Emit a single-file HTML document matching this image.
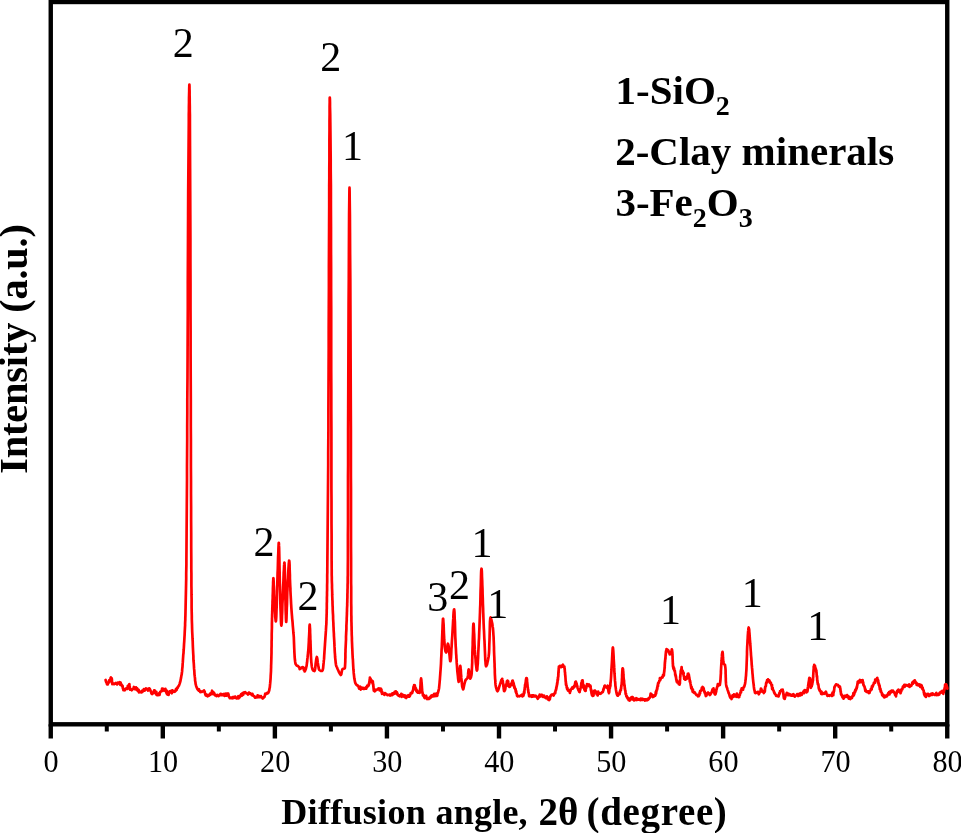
<!DOCTYPE html>
<html lang="en">
<head>
<meta charset="utf-8">
<title>XRD pattern</title>
<style>
html,body{margin:0;padding:0;background:#fff;}
body{width:961px;height:833px;overflow:hidden;}
svg{display:block;}
text{font-family:"Liberation Serif",serif;fill:#000;}
.b{font-weight:bold;}
</style>
</head>
<body>
<svg width="961" height="833" viewBox="0 0 961 833">
<rect x="0" y="0" width="961" height="833" fill="#fff"/>
<g id="axes" stroke="#000" fill="none">
<rect x="50.75" y="2.0" width="896.5" height="722.3" stroke-width="4.4"/>
<line x1="50.75" y1="724.3" x2="50.75" y2="738.5" stroke-width="4.4"/>
<line x1="106.78" y1="724.3" x2="106.78" y2="731.5" stroke-width="4"/>
<line x1="162.81" y1="724.3" x2="162.81" y2="738.5" stroke-width="4.4"/>
<line x1="218.84" y1="724.3" x2="218.84" y2="731.5" stroke-width="4"/>
<line x1="274.88" y1="724.3" x2="274.88" y2="738.5" stroke-width="4.4"/>
<line x1="330.91" y1="724.3" x2="330.91" y2="731.5" stroke-width="4"/>
<line x1="386.94" y1="724.3" x2="386.94" y2="738.5" stroke-width="4.4"/>
<line x1="442.97" y1="724.3" x2="442.97" y2="731.5" stroke-width="4"/>
<line x1="499.00" y1="724.3" x2="499.00" y2="738.5" stroke-width="4.4"/>
<line x1="555.03" y1="724.3" x2="555.03" y2="731.5" stroke-width="4"/>
<line x1="611.06" y1="724.3" x2="611.06" y2="738.5" stroke-width="4.4"/>
<line x1="667.09" y1="724.3" x2="667.09" y2="731.5" stroke-width="4"/>
<line x1="723.12" y1="724.3" x2="723.12" y2="738.5" stroke-width="4.4"/>
<line x1="779.16" y1="724.3" x2="779.16" y2="731.5" stroke-width="4"/>
<line x1="835.19" y1="724.3" x2="835.19" y2="738.5" stroke-width="4.4"/>
<line x1="891.22" y1="724.3" x2="891.22" y2="731.5" stroke-width="4"/>
<line x1="947.25" y1="724.3" x2="947.25" y2="738.5" stroke-width="4.4"/>
</g>
<g id="curve" fill="none" stroke="#ff0000" stroke-width="2.7" stroke-linejoin="round" stroke-linecap="round">
<path d="M105.6,680.0 L105.8,680.6 L106.0,681.9 L106.2,681.9 L106.4,682.4 L106.6,682.3 L106.8,683.2 L107.0,684.4 L107.3,684.0 L107.5,683.7 L107.8,684.4 L108.1,683.4 L108.4,683.1 L108.8,682.4 L109.1,680.4 L109.4,681.2 L109.7,681.4 L110.0,680.7 L110.3,680.1 L110.6,678.0 L110.9,677.5 L111.1,677.8 L111.3,677.8 L111.5,678.1 L111.6,678.4 L111.7,678.5 L111.8,679.4 L111.9,679.1 L111.9,680.4 L112.0,681.2 L112.0,681.1 L112.1,683.5 L112.2,683.2 L112.3,684.2 L112.4,683.1 L112.5,683.7 L112.7,683.1 L113.1,683.4 L113.5,683.6 L114.0,684.2 L114.6,683.9 L115.2,683.4 L115.7,683.0 L116.2,683.7 L116.7,683.2 L117.2,684.4 L117.7,682.7 L118.2,683.3 L118.7,683.1 L119.1,683.5 L119.5,682.2 L119.9,683.6 L120.3,684.8 L120.6,682.6 L121.0,684.3 L121.3,684.8 L121.6,684.6 L121.9,685.6 L122.2,686.3 L122.4,686.4 L122.6,685.8 L122.8,688.1 L123.0,688.5 L123.2,689.2 L123.4,690.1 L123.6,689.7 L123.9,689.8 L124.1,689.0 L124.4,690.0 L124.8,690.4 L125.2,689.3 L125.6,689.2 L126.1,688.3 L126.5,688.3 L126.9,688.7 L127.2,688.0 L127.5,688.9 L127.8,685.9 L128.1,685.8 L128.3,686.6 L128.6,687.1 L128.8,686.1 L129.0,685.6 L129.2,684.3 L129.4,684.2 L129.5,686.9 L129.7,686.6 L129.8,687.0 L130.0,689.1 L130.2,689.7 L130.4,689.4 L130.6,689.4 L130.9,689.5 L131.3,689.5 L131.8,690.2 L132.3,689.2 L132.9,688.9 L133.4,688.7 L133.9,687.0 L134.4,688.1 L134.8,689.1 L135.2,689.0 L135.6,688.9 L136.0,687.3 L136.4,688.6 L136.7,690.1 L137.1,688.4 L137.5,690.0 L137.9,690.1 L138.3,691.3 L138.7,689.9 L139.0,692.4 L139.4,691.9 L139.8,691.6 L140.2,692.1 L140.6,691.9 L141.0,692.3 L141.4,691.8 L141.8,692.3 L142.2,690.7 L142.6,690.5 L143.0,691.3 L143.4,690.2 L143.8,689.2 L144.2,690.3 L144.6,690.6 L145.0,689.4 L145.4,689.1 L145.9,688.4 L146.4,689.3 L146.9,689.3 L147.5,689.2 L148.0,690.5 L148.5,688.6 L148.9,690.3 L149.3,688.4 L149.7,688.8 L150.0,689.4 L150.3,690.0 L150.5,690.7 L150.7,691.0 L150.8,691.2 L151.0,691.7 L151.2,692.3 L151.3,693.2 L151.5,693.1 L151.7,693.8 L151.9,693.7 L152.2,694.0 L152.5,693.2 L152.8,693.3 L153.1,692.6 L153.4,693.1 L153.8,691.3 L154.1,690.4 L154.4,690.6 L154.7,690.4 L155.0,691.0 L155.2,692.1 L155.5,691.7 L155.8,692.8 L156.1,694.5 L156.3,691.8 L156.6,693.4 L156.9,694.8 L157.2,695.2 L157.5,695.0 L157.8,695.1 L158.1,694.4 L158.5,694.9 L158.8,694.2 L159.2,693.2 L159.5,694.9 L159.9,692.9 L160.2,691.8 L160.6,691.9 L161.0,691.5 L161.3,691.1 L161.7,690.9 L162.1,688.6 L162.5,689.9 L162.9,690.8 L163.3,688.9 L163.7,689.5 L164.1,690.2 L164.4,689.4 L164.7,690.1 L165.0,690.8 L165.4,688.8 L165.7,690.3 L165.9,690.8 L166.2,692.1 L166.5,693.0 L166.8,690.7 L167.0,694.1 L167.3,692.6 L167.6,694.6 L167.8,693.2 L168.1,694.4 L168.3,694.4 L168.6,694.8 L168.8,693.3 L169.0,692.9 L169.2,692.8 L169.4,691.8 L169.7,691.3 L170.0,691.2 L170.4,692.3 L170.8,692.0 L171.3,691.0 L171.8,693.3 L172.4,690.3 L172.9,691.9 L173.5,691.0 L174.0,691.3 L174.4,691.2 L174.8,691.7 L175.2,691.1 L175.6,691.1 L175.9,689.1 L176.3,688.7 L176.6,689.9 L176.9,688.2 L177.2,687.7 L177.5,688.1 L178.3,686.4 L178.9,685.7 L179.5,684.1 L180.0,682.5 L180.4,681.2 L180.8,679.0 L181.1,677.6 L181.4,675.6 L181.7,674.4 L181.9,672.5 L182.1,671.4 L182.2,669.3 L182.3,668.4 L182.5,666.8 L182.6,665.0 L182.7,663.0 L182.8,662.4 L182.9,660.5 L183.0,658.9 L183.1,657.5 L183.2,656.0 L183.3,654.5 L183.5,653.2 L183.6,651.0 L183.7,650.0 L183.8,648.5 L183.9,646.9 L184.0,644.9 L184.1,643.2 L184.2,642.1 L184.3,640.3 L184.4,638.7 L184.5,636.8 L184.6,635.3 L184.7,633.0 L184.8,630.6 L184.9,629.1 L185.0,626.9 L185.1,625.7 L185.1,623.6 L185.2,621.5 L185.3,619.8 L185.3,618.1 L185.4,616.0 L185.5,611.4 L185.6,607.0 L185.7,602.0 L185.8,597.6 L185.9,593.0 L186.0,588.4 L186.1,583.2 L186.2,578.9 L186.2,573.5 L186.3,569.1 L186.4,564.2 L186.4,560.0 L186.5,546.9 L186.6,533.0 L186.7,520.0 L186.8,506.6 L186.9,493.3 L187.0,479.9 L187.0,466.7 L187.1,453.8 L187.2,440.0 L187.2,426.8 L187.3,413.6 L187.3,400.0 L187.5,376.8 L187.6,353.4 L187.7,330.4 L187.8,307.6 L187.8,283.8 L187.9,260.8 L188.0,238.1 L188.1,214.9 L188.2,191.5 L188.4,168.5 L188.6,145.2 L188.8,122.0 L188.8,118.4 L188.8,114.5 L188.9,110.7 L188.9,107.0 L189.0,102.5 L189.0,98.4 L189.1,94.7 L189.2,91.1 L189.2,88.7 L189.3,86.2 L189.3,85.2 L189.4,84.6 L189.4,84.5 L189.5,86.6 L189.5,88.5 L189.6,91.0 L189.6,95.1 L189.7,98.6 L189.7,102.1 L189.8,106.5 L189.8,111.0 L189.9,114.8 L189.9,118.8 L189.9,122.0 L190.0,145.4 L190.1,168.5 L190.2,191.6 L190.3,215.0 L190.4,238.0 L190.4,261.1 L190.5,283.6 L190.5,307.6 L190.6,330.8 L190.6,353.6 L190.7,376.7 L190.8,400.0 L190.8,413.8 L190.8,426.2 L190.9,440.1 L190.9,453.9 L190.9,466.4 L191.0,480.2 L191.0,493.8 L191.1,506.6 L191.1,520.1 L191.2,533.6 L191.2,546.4 L191.3,560.0 L191.3,564.3 L191.3,568.7 L191.4,573.2 L191.4,577.3 L191.4,581.6 L191.4,585.7 L191.5,590.2 L191.5,594.9 L191.6,599.0 L191.6,603.1 L191.6,607.5 L191.7,612.0 L191.8,615.9 L191.8,618.8 L191.9,622.0 L192.0,624.4 L192.1,628.5 L192.2,631.7 L192.4,635.3 L192.5,638.2 L192.7,641.4 L192.8,644.8 L192.9,647.4 L193.1,651.2 L193.2,653.2 L193.3,654.8 L193.4,656.4 L193.4,658.6 L193.5,660.5 L193.6,661.5 L193.8,663.5 L193.9,665.5 L194.0,667.2 L194.1,668.9 L194.3,670.5 L194.4,672.5 L194.5,674.6 L194.7,675.8 L194.8,676.9 L195.0,678.4 L195.1,680.7 L195.4,682.0 L195.6,683.8 L195.9,685.0 L196.2,686.2 L196.8,687.6 L197.6,689.4 L198.7,690.6 L199.0,689.3 L199.4,690.6 L199.9,691.4 L200.3,692.1 L200.8,691.3 L201.2,691.9 L201.6,691.7 L202.1,691.9 L202.5,691.5 L203.0,691.4 L203.4,690.9 L203.7,690.6 L204.0,690.5 L204.2,691.6 L204.4,691.4 L204.6,691.3 L204.8,692.0 L204.9,693.1 L205.1,693.6 L205.3,694.4 L205.5,694.8 L205.7,695.4 L205.9,695.4 L206.2,695.6 L206.6,694.6 L207.0,695.9 L207.5,696.3 L208.0,695.7 L208.5,695.2 L209.1,695.6 L209.6,694.4 L210.0,695.0 L210.4,693.3 L210.8,694.4 L211.1,693.2 L211.5,693.9 L211.8,692.1 L212.1,690.7 L212.5,692.5 L212.9,691.8 L213.2,694.1 L213.6,693.0 L214.0,692.7 L214.4,693.6 L214.8,695.0 L215.2,695.3 L215.6,695.0 L216.0,695.1 L216.5,696.1 L217.0,695.5 L217.5,694.9 L218.0,695.3 L218.5,696.1 L219.0,695.5 L219.5,695.5 L220.0,694.7 L220.5,693.8 L221.0,694.5 L221.5,695.1 L222.0,694.2 L222.5,695.2 L223.0,694.7 L223.5,694.9 L224.0,694.0 L224.5,695.9 L225.0,694.9 L225.5,693.7 L225.9,693.9 L226.4,695.7 L226.8,693.5 L227.2,694.4 L227.5,693.7 L227.8,694.5 L228.1,694.1 L228.3,693.6 L228.5,695.1 L228.7,695.8 L229.0,696.9 L229.2,697.1 L229.4,697.0 L229.7,698.0 L230.0,697.5 L230.4,698.0 L230.8,697.8 L231.2,697.8 L231.7,697.6 L232.1,698.4 L232.7,697.1 L233.2,697.5 L233.7,698.0 L234.2,696.9 L234.7,697.7 L235.2,696.6 L235.7,697.6 L236.2,698.1 L236.6,698.5 L237.1,698.4 L237.5,697.7 L237.9,697.3 L238.3,696.2 L238.7,698.3 L239.2,697.1 L239.6,697.3 L240.0,696.2 L240.4,695.3 L240.8,695.6 L241.2,694.1 L241.6,695.8 L242.0,695.6 L242.5,693.2 L242.9,694.4 L243.3,694.6 L243.7,692.6 L244.1,692.3 L244.5,692.7 L244.9,692.9 L245.3,692.2 L245.8,693.2 L246.2,693.1 L246.6,693.3 L247.1,693.6 L247.6,693.8 L248.0,694.5 L248.5,694.3 L248.9,692.6 L249.4,693.4 L249.9,693.1 L250.3,693.3 L250.8,694.2 L251.2,694.4 L251.6,694.6 L252.0,695.2 L252.4,693.9 L252.8,694.5 L253.1,695.7 L253.5,695.9 L253.9,696.1 L254.2,696.6 L254.6,696.4 L255.0,697.7 L255.4,697.6 L255.8,697.4 L256.2,697.5 L256.7,697.0 L257.1,697.3 L257.6,695.3 L258.1,696.5 L258.6,697.1 L259.1,695.9 L259.5,697.1 L260.0,696.9 L260.5,697.1 L260.9,696.1 L261.4,697.2 L261.9,697.4 L262.3,698.2 L262.7,698.5 L263.1,698.1 L263.4,698.0 L263.7,697.1 L264.0,697.2 L264.2,696.8 L264.5,696.8 L264.7,696.0 L265.0,694.7 L265.3,693.7 L265.6,694.4 L266.0,693.9 L266.5,693.4 L267.0,692.9 L267.4,693.5 L267.8,693.0 L268.1,693.1 L268.7,691.9 L269.2,690.5 L269.5,688.5 L269.8,687.3 L270.0,685.0 L270.2,683.2 L270.3,681.8 L270.5,679.7 L270.6,678.2 L270.7,675.6 L270.8,674.2 L270.9,672.7 L271.0,671.0 L271.0,669.6 L271.1,667.3 L271.1,665.8 L271.2,663.7 L271.3,660.3 L271.4,656.7 L271.5,652.9 L271.5,649.1 L271.6,645.6 L271.6,641.6 L271.7,638.5 L271.7,634.3 L271.8,631.0 L271.9,627.8 L271.9,623.6 L272.0,620.0 L272.0,618.3 L272.1,617.0 L272.1,615.0 L272.2,613.1 L272.2,611.7 L272.3,610.1 L272.3,608.5 L272.4,606.5 L272.4,605.4 L272.5,603.7 L272.5,601.7 L272.6,600.0 L272.7,598.1 L272.7,595.8 L272.8,593.9 L272.9,590.9 L272.9,588.9 L273.0,586.3 L273.1,584.0 L273.1,582.4 L273.2,580.9 L273.3,579.3 L273.3,578.3 L273.4,578.2 L273.5,578.7 L273.5,579.3 L273.6,580.7 L273.7,582.6 L273.7,584.5 L273.8,586.2 L273.9,589.3 L274.0,591.1 L274.0,593.7 L274.1,595.7 L274.2,598.0 L274.3,600.0 L274.4,601.5 L274.5,604.5 L274.6,606.7 L274.8,608.4 L274.9,610.7 L275.1,613.0 L275.2,615.8 L275.3,617.3 L275.5,619.0 L275.6,620.2 L275.7,621.1 L275.8,621.4 L276.0,620.6 L276.1,619.3 L276.3,616.5 L276.4,613.7 L276.5,610.1 L276.7,606.0 L276.8,601.4 L276.9,596.6 L277.0,592.3 L277.1,587.7 L277.3,584.1 L277.4,580.0 L277.5,576.9 L277.6,572.9 L277.8,568.8 L277.9,564.7 L278.0,560.5 L278.1,556.7 L278.3,553.1 L278.4,549.8 L278.5,547.0 L278.6,545.2 L278.7,543.1 L278.8,542.8 L278.9,543.4 L279.0,545.9 L279.1,547.5 L279.2,551.4 L279.3,555.8 L279.4,560.5 L279.5,565.7 L279.6,570.7 L279.7,576.1 L279.8,581.1 L279.9,586.0 L280.0,590.0 L280.1,592.7 L280.2,596.5 L280.3,600.6 L280.4,604.2 L280.5,608.2 L280.7,612.4 L280.8,615.7 L280.9,619.2 L281.0,621.9 L281.1,623.9 L281.3,625.3 L281.4,625.6 L281.5,625.1 L281.7,623.4 L281.8,621.7 L281.9,619.1 L282.0,615.7 L282.2,612.2 L282.3,608.6 L282.4,604.3 L282.6,600.7 L282.7,597.2 L282.9,593.1 L283.0,590.0 L283.1,587.6 L283.2,584.8 L283.4,582.3 L283.5,578.9 L283.6,576.0 L283.7,572.7 L283.9,570.1 L284.0,567.7 L284.1,565.2 L284.2,564.4 L284.3,563.2 L284.4,562.6 L284.5,562.7 L284.6,564.7 L284.7,566.7 L284.8,569.6 L284.8,573.0 L284.9,576.3 L285.0,580.6 L285.1,585.1 L285.1,588.8 L285.2,592.6 L285.3,596.3 L285.4,600.0 L285.5,601.7 L285.5,604.3 L285.6,607.0 L285.6,609.1 L285.7,611.5 L285.8,614.3 L285.9,615.8 L285.9,617.8 L286.0,619.7 L286.1,621.0 L286.1,621.5 L286.2,622.0 L286.3,621.2 L286.4,620.2 L286.5,618.0 L286.6,614.8 L286.7,611.8 L286.8,608.0 L287.0,604.3 L287.1,600.0 L287.2,596.0 L287.3,591.9 L287.5,588.6 L287.6,585.0 L287.7,583.2 L287.8,580.3 L288.0,578.0 L288.1,574.9 L288.2,572.5 L288.4,570.1 L288.5,567.8 L288.7,565.2 L288.8,563.4 L289.0,562.1 L289.1,560.7 L289.2,560.8 L289.3,561.1 L289.4,561.9 L289.5,563.5 L289.6,565.0 L289.6,567.0 L289.7,569.9 L289.8,572.5 L289.9,575.0 L289.9,578.0 L290.0,580.3 L290.1,582.7 L290.2,585.0 L290.3,587.0 L290.4,588.3 L290.4,590.3 L290.5,592.3 L290.6,594.4 L290.7,596.0 L290.8,597.9 L290.9,599.5 L291.0,601.6 L291.1,603.8 L291.2,605.0 L291.3,607.0 L291.5,609.9 L291.6,611.4 L291.8,613.9 L292.0,616.2 L292.2,618.8 L292.4,620.5 L292.6,622.6 L292.8,625.6 L293.0,627.9 L293.2,630.2 L293.4,633.0 L293.6,634.6 L293.8,637.1 L293.9,639.7 L294.0,642.4 L294.1,644.9 L294.2,647.8 L294.3,649.7 L294.4,652.4 L294.5,654.1 L294.7,657.6 L294.9,659.5 L295.2,662.0 L295.5,663.7 L296.5,665.4 L298.0,666.0 L298.3,666.4 L298.6,666.7 L298.9,667.0 L299.1,667.3 L299.4,667.8 L299.7,669.1 L300.0,668.7 L300.4,668.6 L300.8,668.3 L301.3,667.7 L301.7,668.1 L302.1,667.5 L302.5,667.0 L302.8,667.0 L303.1,667.9 L303.4,667.8 L303.6,667.5 L303.9,670.1 L304.2,669.9 L304.4,669.4 L304.6,671.4 L304.8,671.1 L305.0,671.0 L305.8,669.1 L306.3,667.0 L306.6,665.9 L306.8,664.1 L307.0,662.8 L307.2,661.1 L307.3,659.5 L307.5,658.0 L307.7,656.1 L307.8,655.2 L308.0,653.5 L308.1,651.9 L308.3,650.6 L308.4,649.0 L308.5,647.4 L308.6,645.9 L308.7,644.0 L308.8,642.5 L308.9,640.3 L308.9,639.1 L309.0,637.8 L309.1,636.0 L309.2,634.5 L309.3,632.0 L309.4,629.9 L309.4,628.3 L309.5,626.1 L309.6,625.2 L309.7,624.6 L309.8,625.3 L309.8,625.7 L309.9,627.3 L310.0,628.4 L310.1,630.4 L310.1,632.3 L310.2,634.4 L310.3,636.7 L310.3,638.9 L310.4,640.0 L310.5,641.4 L310.5,643.0 L310.6,644.9 L310.6,646.1 L310.7,648.0 L310.7,649.6 L310.8,651.0 L310.8,652.8 L310.9,653.9 L310.9,656.0 L311.0,657.0 L311.1,659.0 L311.2,660.4 L311.3,662.1 L311.5,663.7 L311.7,665.6 L311.9,667.0 L312.4,669.0 L313.2,670.5 L314.4,671.0 L314.9,670.1 L315.2,668.5 L315.4,666.5 L315.6,664.0 L315.9,661.9 L316.2,659.7 L316.5,658.1 L316.8,657.0 L317.1,657.8 L317.4,659.3 L317.7,662.5 L318.0,664.0 L318.3,666.1 L318.5,666.7 L318.8,668.8 L319.3,670.0 L320.8,671.0 L322.2,670.8 L322.7,670.0 L323.1,668.3 L323.3,666.1 L323.5,664.0 L323.7,662.4 L323.8,660.6 L324.0,659.4 L324.1,658.1 L324.2,656.0 L324.3,654.4 L324.4,653.1 L324.5,651.1 L324.6,650.0 L324.7,648.4 L324.8,646.9 L324.9,645.6 L325.0,643.8 L325.1,642.3 L325.2,640.9 L325.3,639.5 L325.4,637.8 L325.5,636.5 L325.6,635.2 L325.7,633.8 L325.8,632.0 L325.9,630.9 L326.0,628.8 L326.1,627.4 L326.2,625.4 L326.3,625.0 L326.4,622.8 L326.4,621.5 L326.5,620.0 L326.5,618.5 L326.6,616.3 L326.6,615.1 L326.7,613.3 L326.7,611.2 L326.7,610.1 L326.8,608.6 L326.8,606.2 L326.8,605.2 L326.8,603.4 L326.9,601.8 L326.9,600.0 L326.9,597.6 L327.0,595.3 L327.0,592.4 L327.1,590.2 L327.1,587.4 L327.1,585.2 L327.2,582.3 L327.2,580.0 L327.2,577.9 L327.2,575.1 L327.3,572.5 L327.3,570.0 L327.4,558.0 L327.5,546.5 L327.6,535.0 L327.7,523.6 L327.8,511.8 L327.9,500.1 L328.0,488.3 L328.1,477.0 L328.2,464.9 L328.2,453.2 L328.3,441.9 L328.4,430.0 L328.4,409.7 L328.5,389.3 L328.6,368.9 L328.7,348.6 L328.7,328.5 L328.8,308.1 L328.9,287.4 L328.9,267.4 L329.0,247.0 L329.1,226.4 L329.2,206.5 L329.2,186.0 L329.3,178.0 L329.3,169.1 L329.4,159.9 L329.4,150.3 L329.4,140.0 L329.5,130.8 L329.5,121.6 L329.6,114.5 L329.6,107.1 L329.7,102.3 L329.7,98.5 L329.8,97.5 L329.9,98.9 L330.0,102.6 L330.0,106.5 L330.2,113.8 L330.3,122.0 L330.4,130.7 L330.5,140.0 L330.6,150.5 L330.7,159.7 L330.7,168.8 L330.8,178.3 L330.9,186.0 L330.9,205.9 L331.0,227.0 L331.0,246.9 L331.1,267.4 L331.1,288.0 L331.2,308.0 L331.2,328.0 L331.2,348.2 L331.2,369.3 L331.3,389.5 L331.3,409.5 L331.4,430.0 L331.4,441.9 L331.4,453.5 L331.4,465.2 L331.4,476.1 L331.4,488.3 L331.5,500.2 L331.5,511.9 L331.5,523.6 L331.6,534.4 L331.6,546.7 L331.6,558.5 L331.7,570.0 L331.7,573.1 L331.7,574.8 L331.8,577.4 L331.8,580.0 L331.9,582.7 L332.0,584.9 L332.0,587.8 L332.1,589.8 L332.2,592.6 L332.2,594.9 L332.3,597.5 L332.4,600.0 L332.5,601.7 L332.5,603.3 L332.6,605.8 L332.7,607.4 L332.7,609.0 L332.8,611.1 L332.9,613.1 L333.0,614.4 L333.1,616.5 L333.1,618.5 L333.2,620.3 L333.3,622.0 L333.4,623.4 L333.4,624.5 L333.5,626.8 L333.6,628.1 L333.6,629.5 L333.7,630.9 L333.8,632.6 L333.9,633.9 L333.9,635.2 L334.0,636.8 L334.1,638.4 L334.2,640.0 L334.3,641.9 L334.4,643.9 L334.5,646.4 L334.6,648.0 L334.7,650.6 L334.8,652.3 L335.0,654.7 L335.1,657.0 L335.3,658.8 L335.5,660.6 L335.7,662.8 L336.0,664.8 L336.4,666.4 L337.0,667.4 L337.7,669.2 L338.4,670.8 L339.2,672.6 L340.1,674.1 L340.8,675.0 L341.3,674.2 L341.6,672.5 L342.0,670.5 L342.6,669.0 L344.7,668.4 L344.9,667.8 L345.0,666.6 L345.1,665.0 L345.2,663.5 L345.3,661.6 L345.3,659.7 L345.4,657.7 L345.4,655.3 L345.4,653.6 L345.5,651.7 L345.5,649.5 L345.6,648.0 L345.7,645.8 L345.8,643.8 L345.9,641.5 L346.0,639.9 L346.0,636.5 L346.1,634.9 L346.2,632.4 L346.3,630.9 L346.4,629.2 L346.4,625.7 L346.5,624.2 L346.6,622.0 L346.7,620.3 L346.7,618.3 L346.8,616.6 L346.9,614.1 L346.9,613.0 L347.0,611.1 L347.0,609.2 L347.1,607.2 L347.2,605.7 L347.2,603.5 L347.3,601.9 L347.3,600.0 L347.4,597.4 L347.4,594.4 L347.5,592.5 L347.5,590.1 L347.6,587.7 L347.6,584.8 L347.7,582.5 L347.7,580.2 L347.7,577.5 L347.8,575.3 L347.8,573.0 L347.8,570.0 L347.9,558.1 L347.9,546.2 L347.9,535.2 L348.0,523.7 L348.0,511.9 L348.0,500.2 L348.0,488.2 L348.0,476.5 L348.1,465.2 L348.1,453.1 L348.1,441.2 L348.1,430.0 L348.2,408.0 L348.3,384.6 L348.4,358.5 L348.5,331.1 L348.6,304.3 L348.8,278.6 L348.9,254.1 L349.0,232.9 L349.1,214.2 L349.3,199.8 L349.4,191.3 L349.5,187.7 L349.6,190.8 L349.7,200.1 L349.9,214.2 L350.0,232.5 L350.1,254.4 L350.3,278.4 L350.4,304.0 L350.5,330.7 L350.6,357.8 L350.7,383.8 L350.8,408.3 L350.9,430.0 L350.9,441.7 L350.9,453.5 L350.9,465.0 L350.9,476.5 L351.0,488.2 L351.0,499.5 L351.0,511.6 L351.0,523.5 L351.0,535.1 L351.0,546.6 L351.1,558.3 L351.1,570.0 L351.1,573.6 L351.1,576.7 L351.1,580.2 L351.1,583.5 L351.2,586.7 L351.2,590.3 L351.2,593.2 L351.2,596.6 L351.2,599.8 L351.2,603.1 L351.3,607.1 L351.3,610.0 L351.3,612.6 L351.3,614.3 L351.4,616.6 L351.4,619.0 L351.4,621.0 L351.5,623.3 L351.5,624.9 L351.6,627.2 L351.6,629.6 L351.7,632.0 L351.7,633.9 L351.8,636.0 L351.9,638.0 L351.9,640.2 L352.0,642.3 L352.1,644.5 L352.2,647.2 L352.3,648.9 L352.4,651.2 L352.5,653.9 L352.6,655.8 L352.7,657.8 L352.9,659.7 L353.0,662.0 L353.1,663.9 L353.2,665.9 L353.3,667.5 L353.4,669.5 L353.6,671.0 L353.7,672.9 L353.9,674.5 L354.1,676.4 L354.3,678.3 L354.5,679.3 L354.9,681.3 L355.2,682.8 L356.2,684.5 L357.6,685.8 L358.0,685.7 L358.3,686.2 L358.7,687.3 L359.1,688.5 L359.5,687.8 L360.0,687.9 L360.4,686.7 L360.8,689.6 L361.3,688.4 L361.7,688.5 L362.2,687.8 L362.6,688.7 L363.0,688.8 L363.4,687.9 L363.9,688.7 L364.4,688.9 L364.9,688.4 L365.3,688.4 L365.8,687.3 L366.3,688.7 L366.7,686.9 L367.2,685.7 L367.5,686.6 L367.9,685.9 L368.2,685.4 L368.4,685.8 L368.6,685.2 L368.7,685.3 L368.9,683.7 L369.0,683.9 L369.1,684.5 L369.2,683.4 L369.3,682.1 L369.4,681.8 L369.5,681.0 L369.6,680.5 L369.7,680.7 L369.8,679.7 L369.9,677.6 L370.0,679.2 L370.2,679.2 L370.4,678.6 L370.7,680.0 L370.9,679.4 L371.3,680.4 L371.6,682.4 L371.9,680.5 L372.2,681.0 L372.4,681.3 L372.6,682.8 L372.8,681.4 L372.9,682.3 L373.0,684.6 L373.1,684.4 L373.2,684.0 L373.3,684.9 L373.4,687.1 L373.5,686.6 L373.5,687.5 L373.6,688.6 L373.7,689.8 L373.8,690.6 L373.9,690.3 L374.1,689.9 L374.2,690.1 L374.4,690.0 L374.6,691.3 L375.0,691.0 L375.4,689.7 L375.8,690.2 L376.4,690.0 L376.9,689.8 L377.5,689.3 L378.1,688.6 L378.6,689.1 L379.1,688.3 L379.6,690.4 L380.1,689.8 L380.4,689.4 L380.7,688.6 L380.9,690.8 L381.2,690.9 L381.4,689.3 L381.6,692.6 L381.8,692.4 L382.0,693.8 L382.2,691.8 L382.5,693.0 L382.8,693.6 L383.2,693.7 L383.6,693.8 L384.0,694.0 L384.4,694.8 L384.9,693.1 L385.4,693.5 L385.8,693.5 L386.3,694.2 L386.8,694.3 L387.3,695.1 L387.8,695.1 L388.2,695.0 L388.7,695.0 L389.1,694.5 L389.6,694.6 L390.1,695.5 L390.5,695.2 L391.0,694.6 L391.5,694.0 L392.0,695.2 L392.4,693.4 L392.9,694.1 L393.3,694.3 L393.8,693.0 L394.2,693.6 L394.7,692.0 L395.1,693.5 L395.5,692.7 L395.8,691.3 L396.2,692.5 L396.5,693.1 L396.9,692.3 L397.2,694.4 L397.4,693.5 L397.7,694.4 L398.0,695.2 L398.3,695.2 L398.7,695.6 L399.1,695.9 L399.5,695.3 L399.9,696.3 L400.3,695.8 L400.8,696.0 L401.2,693.9 L401.7,696.8 L402.2,696.0 L402.7,694.7 L403.2,696.1 L403.7,696.4 L404.2,696.9 L404.7,695.3 L405.2,697.3 L405.7,696.1 L406.2,698.0 L406.6,696.1 L407.1,696.7 L407.5,696.2 L407.9,695.9 L408.3,695.2 L408.7,696.7 L409.2,696.3 L409.6,696.5 L410.0,695.7 L410.4,694.3 L410.7,693.2 L411.1,693.6 L411.4,693.2 L411.7,692.7 L411.9,693.0 L412.1,693.1 L412.3,692.5 L412.5,691.5 L412.7,691.3 L412.8,690.5 L413.0,690.2 L413.1,690.1 L413.2,689.7 L413.4,687.9 L413.5,686.8 L413.6,688.5 L413.8,687.1 L413.9,687.5 L414.1,685.2 L414.2,686.0 L414.4,686.2 L414.6,686.3 L414.8,685.4 L415.0,686.4 L415.1,687.7 L415.3,688.5 L415.5,689.4 L415.7,688.1 L415.9,688.2 L416.2,690.2 L416.4,691.1 L416.6,691.0 L416.9,690.3 L417.2,692.2 L417.5,691.9 L418.0,692.7 L418.6,692.7 L419.1,692.1 L419.4,692.5 L419.5,692.7 L419.6,692.9 L419.7,691.7 L419.8,690.4 L419.9,691.7 L420.0,691.4 L420.0,690.6 L420.1,690.7 L420.2,689.1 L420.2,688.8 L420.3,688.0 L420.3,688.1 L420.4,688.2 L420.4,686.1 L420.5,687.2 L420.5,686.1 L420.5,684.9 L420.6,684.1 L420.6,684.3 L420.6,682.3 L420.7,681.8 L420.7,680.5 L420.7,681.2 L420.8,681.4 L420.8,680.5 L420.8,680.1 L420.9,679.4 L420.9,679.6 L421.0,679.4 L421.1,678.4 L421.1,680.3 L421.2,679.3 L421.2,679.0 L421.3,679.5 L421.3,679.7 L421.3,681.3 L421.4,681.8 L421.4,680.4 L421.5,682.6 L421.5,683.0 L421.5,682.4 L421.6,682.2 L421.6,683.3 L421.7,684.0 L421.7,685.3 L421.7,685.4 L421.8,684.7 L421.8,687.0 L421.9,686.3 L421.9,688.7 L422.0,687.8 L422.0,688.8 L422.1,689.3 L422.1,690.1 L422.2,692.0 L422.3,692.3 L422.3,692.6 L422.4,693.0 L422.5,692.1 L422.6,693.3 L422.7,693.7 L422.8,693.8 L422.9,695.3 L423.0,694.7 L423.1,695.6 L423.3,695.4 L423.5,695.4 L423.8,695.0 L424.2,697.3 L424.7,698.1 L425.1,697.5 L425.6,696.9 L426.1,695.8 L426.6,698.1 L427.1,699.0 L427.5,698.1 L427.9,698.3 L428.4,698.7 L428.8,699.0 L429.2,698.6 L429.7,697.3 L430.1,698.2 L430.6,697.8 L431.0,695.8 L431.5,696.4 L431.9,695.4 L432.4,696.2 L432.8,696.5 L433.3,695.0 L433.7,695.6 L434.2,693.9 L434.6,696.2 L435.2,695.3 L435.7,695.9 L436.2,693.6 L436.6,695.2 L437.0,695.8 L437.3,695.5 L437.5,693.7 L438.0,692.6 L438.3,691.4 L438.7,689.8 L439.0,688.5 L439.2,686.7 L439.4,684.7 L439.6,682.5 L439.7,681.2 L439.9,679.1 L440.0,677.5 L440.2,674.9 L440.4,672.0 L440.6,669.5 L440.8,666.5 L441.0,663.3 L441.1,660.7 L441.2,658.2 L441.4,654.8 L441.5,652.3 L441.6,649.6 L441.8,646.8 L441.9,643.7 L442.0,641.6 L442.1,638.6 L442.2,636.0 L442.3,633.6 L442.4,630.8 L442.5,628.7 L442.6,625.4 L442.7,623.6 L442.8,621.6 L442.9,619.6 L443.0,618.8 L443.1,618.7 L443.2,619.1 L443.3,620.1 L443.4,622.0 L443.6,624.4 L443.7,626.8 L443.8,630.2 L443.9,633.1 L444.1,636.5 L444.2,640.0 L444.5,643.0 L444.7,646.1 L445.0,648.7 L445.5,651.5 L446.2,652.5 L446.6,651.6 L447.0,649.4 L447.3,647.0 L447.6,644.5 L447.9,643.7 L448.2,644.4 L448.4,644.9 L448.7,647.0 L448.9,648.8 L449.2,651.1 L449.4,654.1 L449.6,655.7 L449.8,658.4 L450.0,659.8 L450.2,661.2 L450.4,661.2 L450.6,660.7 L450.7,660.5 L450.8,659.4 L451.0,657.5 L451.1,655.7 L451.2,654.3 L451.3,651.6 L451.4,649.2 L451.6,647.0 L451.7,645.1 L451.8,643.1 L451.9,641.2 L452.1,638.4 L452.3,635.6 L452.5,631.7 L452.7,628.4 L452.9,625.1 L453.1,621.1 L453.3,618.4 L453.4,615.7 L453.6,612.5 L453.8,610.7 L454.0,609.6 L454.1,609.4 L454.2,609.4 L454.4,611.3 L454.5,612.7 L454.6,615.9 L454.7,619.2 L454.9,621.9 L455.0,625.9 L455.1,629.2 L455.2,633.7 L455.3,637.0 L455.5,640.6 L455.6,643.7 L455.7,646.1 L455.9,648.6 L456.0,650.8 L456.1,653.3 L456.3,655.6 L456.4,658.1 L456.6,660.2 L456.7,662.9 L456.9,664.8 L457.1,667.6 L457.3,670.6 L457.5,672.5 L457.7,674.3 L457.9,676.0 L458.1,678.4 L458.3,679.9 L458.5,681.0 L458.7,681.9 L458.9,681.3 L459.0,680.5 L459.2,678.6 L459.3,676.3 L459.5,673.8 L459.6,671.5 L459.8,669.9 L459.9,667.9 L460.1,666.4 L460.2,666.2 L460.3,665.9 L460.5,666.9 L460.6,669.1 L460.8,669.7 L460.9,671.8 L461.0,673.8 L461.2,675.8 L461.3,677.9 L461.5,679.7 L461.7,681.7 L461.9,683.7 L462.2,686.5 L462.7,688.2 L463.1,689.4 L463.4,689.1 L463.8,687.1 L464.1,685.6 L464.5,683.6 L465.0,681.8 L465.6,680.0 L467.5,678.1 L467.9,676.0 L468.1,674.2 L468.3,671.9 L468.5,669.9 L468.7,669.4 L468.9,670.2 L469.1,671.6 L469.4,673.9 L469.6,676.3 L469.9,677.3 L470.2,678.7 L470.9,677.3 L471.5,675.0 L471.7,672.7 L471.8,670.6 L471.9,668.8 L472.0,667.0 L472.1,664.6 L472.2,662.9 L472.2,660.2 L472.3,658.1 L472.3,656.7 L472.4,654.3 L472.4,652.3 L472.5,650.0 L472.6,647.4 L472.7,645.2 L472.7,642.3 L472.8,639.4 L472.9,636.4 L473.0,633.9 L473.1,630.8 L473.1,628.3 L473.2,626.2 L473.3,625.3 L473.4,623.9 L473.5,623.7 L473.6,623.8 L473.7,624.9 L473.8,626.7 L473.9,628.7 L474.0,631.6 L474.2,634.4 L474.3,637.5 L474.4,640.5 L474.5,644.0 L474.7,646.9 L474.8,649.9 L475.0,652.5 L475.1,654.2 L475.3,656.0 L475.4,657.3 L475.6,659.7 L475.7,661.7 L475.9,664.0 L476.1,665.2 L476.3,667.1 L476.5,668.5 L476.6,669.6 L476.8,670.6 L476.9,670.6 L477.1,670.1 L477.3,669.5 L477.4,667.3 L477.6,665.2 L477.8,663.5 L477.9,660.6 L478.1,657.8 L478.2,654.7 L478.3,651.8 L478.5,648.5 L478.6,646.4 L478.7,643.7 L478.8,641.0 L479.0,638.7 L479.1,635.9 L479.2,632.8 L479.3,630.4 L479.4,628.4 L479.5,625.5 L479.6,622.8 L479.7,620.4 L479.8,617.6 L479.9,615.0 L480.0,612.5 L480.1,608.6 L480.3,604.2 L480.4,599.9 L480.5,594.7 L480.6,590.3 L480.8,585.6 L480.9,581.2 L481.0,577.1 L481.1,573.5 L481.2,571.0 L481.4,569.2 L481.5,568.7 L481.6,569.1 L481.8,570.9 L481.9,573.3 L482.0,577.1 L482.2,580.7 L482.3,584.8 L482.5,589.1 L482.6,594.3 L482.8,599.0 L482.9,603.5 L483.1,607.8 L483.2,612.0 L483.3,614.1 L483.4,617.4 L483.5,619.9 L483.6,623.2 L483.7,625.2 L483.8,627.8 L484.0,630.9 L484.1,633.2 L484.2,635.8 L484.3,638.3 L484.5,640.9 L484.6,643.7 L484.7,646.1 L484.8,648.2 L484.9,650.8 L485.0,652.8 L485.1,655.4 L485.2,657.5 L485.3,660.3 L485.5,661.7 L485.6,663.9 L485.8,665.3 L486.0,666.3 L486.2,666.2 L486.5,665.5 L487.0,664.6 L487.5,662.3 L488.0,660.1 L488.4,657.8 L488.7,656.2 L489.0,653.1 L489.2,649.3 L489.3,644.7 L489.5,640.3 L489.6,636.2 L489.7,632.7 L489.8,628.5 L489.9,624.6 L490.0,621.3 L490.2,619.3 L490.3,618.3 L490.6,617.5 L490.8,618.3 L491.1,618.8 L491.5,620.2 L491.9,622.0 L492.3,623.7 L492.6,626.5 L492.9,628.0 L493.1,630.0 L493.3,632.7 L493.4,634.5 L493.6,637.1 L493.7,640.0 L493.8,642.3 L493.9,645.2 L494.0,647.5 L494.0,649.7 L494.1,652.6 L494.2,655.2 L494.3,657.0 L494.4,660.0 L494.5,662.5 L494.6,664.3 L494.6,666.5 L494.7,667.9 L494.8,670.3 L494.8,672.5 L494.9,674.9 L495.0,676.4 L495.1,678.6 L495.3,680.4 L495.4,682.9 L495.6,685.0 L495.9,686.9 L496.4,688.5 L496.9,690.4 L497.5,691.2 L498.1,690.4 L498.7,688.6 L499.4,686.2 L500.1,684.3 L500.8,681.9 L501.5,679.8 L502.1,679.4 L502.2,678.8 L502.3,679.1 L502.4,680.0 L502.5,680.1 L502.6,681.8 L502.7,681.2 L502.8,680.7 L502.9,683.3 L503.0,683.4 L503.1,683.4 L503.2,683.5 L503.2,683.3 L503.3,684.6 L503.4,686.7 L503.5,686.1 L503.6,686.3 L503.6,688.0 L503.7,688.6 L503.8,689.4 L503.9,689.9 L504.0,690.9 L504.1,689.5 L504.2,691.1 L504.3,689.8 L504.4,690.6 L504.5,691.1 L504.6,690.5 L504.8,690.3 L504.9,690.4 L505.0,689.2 L505.2,689.6 L505.3,688.8 L505.5,687.6 L505.6,686.5 L505.8,685.7 L505.9,685.2 L506.1,684.7 L506.3,684.2 L506.4,685.9 L506.6,683.5 L506.7,683.1 L506.9,681.4 L507.0,681.2 L507.2,681.2 L507.4,681.4 L507.5,681.2 L507.6,680.5 L507.8,682.8 L507.9,681.5 L508.1,683.3 L508.2,681.3 L508.3,683.7 L508.5,684.6 L508.6,685.2 L508.7,686.1 L508.9,686.3 L509.1,686.7 L509.2,685.4 L509.4,686.9 L509.6,686.3 L509.8,684.8 L510.0,686.7 L510.3,686.0 L510.5,685.1 L510.8,684.1 L511.1,683.7 L511.3,684.9 L511.6,684.3 L511.8,682.5 L512.1,683.2 L512.3,680.8 L512.5,681.9 L512.7,680.5 L512.9,681.7 L513.0,681.7 L513.2,682.2 L513.4,683.2 L513.5,685.7 L513.7,683.4 L513.8,684.5 L513.9,685.2 L514.1,685.5 L514.2,686.8 L514.4,688.0 L514.5,686.3 L514.7,687.9 L514.8,688.1 L515.0,688.7 L515.2,689.4 L515.3,688.5 L515.5,688.8 L515.6,688.9 L515.7,691.6 L515.9,691.9 L516.0,692.4 L516.2,691.1 L516.3,693.1 L516.5,693.3 L516.6,693.3 L516.8,694.1 L517.0,695.7 L517.2,696.0 L517.4,695.8 L517.6,696.4 L517.8,695.7 L518.1,696.2 L518.5,696.2 L519.0,696.1 L519.5,696.3 L520.1,695.7 L520.6,695.6 L521.0,695.3 L521.5,695.2 L522.0,694.6 L522.4,696.5 L522.8,694.9 L523.2,694.6 L523.5,695.7 L523.7,693.7 L523.8,694.4 L524.0,691.9 L524.1,693.2 L524.2,692.9 L524.3,693.2 L524.4,692.4 L524.4,691.5 L524.5,689.6 L524.6,689.3 L524.6,689.7 L524.7,689.3 L524.7,687.7 L524.8,687.7 L524.9,687.1 L524.9,687.0 L525.0,686.7 L525.0,685.7 L525.1,684.5 L525.2,685.0 L525.3,685.4 L525.4,685.2 L525.5,683.3 L525.5,683.6 L525.6,682.5 L525.7,682.1 L525.8,681.3 L525.9,679.8 L526.0,680.3 L526.1,680.1 L526.2,678.3 L526.3,680.1 L526.3,679.9 L526.4,679.5 L526.5,678.1 L526.6,679.6 L526.6,678.8 L526.7,678.1 L526.8,678.2 L526.8,678.3 L526.9,679.3 L526.9,679.6 L527.0,680.5 L527.0,679.0 L527.1,682.7 L527.1,683.2 L527.2,682.0 L527.3,683.1 L527.3,683.5 L527.4,684.0 L527.4,684.2 L527.5,684.9 L527.5,685.0 L527.6,686.3 L527.6,686.8 L527.7,687.6 L527.8,687.3 L527.9,688.5 L527.9,689.1 L528.0,690.0 L528.1,690.0 L528.2,689.7 L528.3,691.3 L528.4,692.3 L528.5,692.6 L528.6,692.5 L528.7,693.0 L528.8,693.7 L529.0,695.0 L529.1,696.1 L529.3,695.2 L529.4,695.2 L529.6,696.2 L529.8,696.3 L530.0,696.2 L530.3,695.5 L530.6,695.6 L531.0,696.1 L531.5,696.7 L532.0,695.3 L532.5,695.4 L533.0,696.6 L533.6,695.3 L534.1,696.3 L534.6,696.5 L535.0,696.2 L535.4,696.2 L535.8,695.7 L536.3,696.8 L536.7,696.9 L537.1,697.8 L537.4,697.2 L537.8,698.8 L538.1,698.1 L538.4,696.7 L538.6,697.5 L538.8,697.1 L539.0,697.3 L539.3,695.5 L539.5,695.9 L539.7,694.7 L540.0,695.0 L540.3,695.6 L540.7,696.4 L541.2,694.9 L541.6,695.7 L542.1,694.9 L542.6,696.5 L543.1,696.9 L543.6,696.3 L544.1,695.6 L544.5,697.0 L545.0,696.9 L545.5,698.0 L545.9,698.1 L546.4,698.2 L546.9,696.4 L547.4,697.5 L547.9,699.3 L548.3,697.5 L548.7,699.4 L549.1,700.1 L549.4,698.7 L549.6,699.2 L549.9,699.2 L550.0,697.7 L550.2,696.5 L550.4,696.8 L550.5,696.1 L550.7,695.7 L550.9,695.8 L551.2,695.0 L551.6,694.7 L552.0,694.7 L552.6,694.7 L553.1,694.3 L553.6,695.5 L554.1,694.3 L554.4,693.7 L554.6,693.5 L554.9,692.9 L555.1,692.2 L555.2,693.2 L555.4,691.9 L555.6,690.4 L555.7,690.3 L555.8,690.1 L556.0,689.3 L556.1,690.0 L556.2,688.7 L556.3,687.4 L556.4,688.2 L556.5,687.5 L556.6,686.1 L556.7,686.5 L556.8,686.0 L556.9,686.0 L556.9,684.8 L557.0,684.9 L557.1,683.0 L557.2,683.0 L557.3,684.0 L557.3,683.7 L557.4,682.5 L557.5,681.6 L557.5,682.4 L557.6,679.5 L557.7,680.1 L557.7,680.7 L557.8,680.2 L557.9,678.5 L557.9,677.4 L558.0,679.5 L558.0,678.1 L558.1,677.5 L558.2,676.4 L558.2,676.6 L558.3,676.7 L558.3,673.6 L558.3,675.8 L558.4,675.0 L558.4,672.3 L558.4,673.9 L558.5,671.4 L558.5,673.0 L558.5,671.9 L558.6,672.7 L558.6,670.1 L558.6,670.0 L558.7,670.3 L558.7,668.5 L558.8,668.0 L558.8,667.8 L558.9,667.7 L558.9,666.5 L559.0,667.4 L559.1,667.2 L559.2,666.6 L559.3,667.6 L559.4,666.2 L559.9,665.8 L560.6,666.0 L561.2,667.0 L561.8,665.6 L562.4,666.7 L563.0,664.7 L563.4,666.4 L563.7,666.3 L563.9,666.3 L564.0,666.3 L564.1,666.5 L564.2,667.1 L564.4,667.2 L564.4,666.6 L564.5,668.3 L564.6,668.9 L564.7,669.5 L564.8,669.6 L564.8,670.9 L564.9,672.1 L564.9,671.8 L565.0,672.5 L565.1,672.6 L565.1,674.4 L565.2,674.6 L565.2,675.0 L565.3,675.7 L565.3,675.0 L565.3,675.7 L565.4,677.1 L565.4,676.3 L565.4,677.1 L565.5,677.9 L565.5,678.4 L565.5,678.4 L565.6,679.8 L565.6,679.4 L565.6,680.6 L565.7,681.3 L565.7,681.4 L565.7,682.0 L565.8,681.0 L565.8,681.3 L565.9,682.3 L565.9,683.6 L566.0,684.8 L566.1,683.2 L566.1,684.8 L566.2,685.0 L566.3,684.8 L566.4,685.4 L566.6,686.3 L566.7,687.5 L566.9,687.7 L567.1,689.0 L567.4,687.9 L567.6,689.8 L567.8,690.3 L568.1,690.1 L568.4,690.8 L568.6,690.3 L568.9,690.2 L569.1,690.8 L569.4,691.2 L569.7,690.6 L569.9,693.0 L570.2,690.0 L570.5,691.1 L570.8,689.5 L571.2,689.1 L571.5,689.0 L571.9,688.1 L572.3,687.3 L572.9,688.5 L573.3,688.0 L573.7,687.5 L574.0,686.1 L574.2,687.2 L574.4,686.7 L574.5,686.0 L574.7,686.2 L574.9,684.1 L575.0,684.2 L575.1,683.8 L575.3,682.2 L575.4,683.5 L575.6,682.5 L575.8,681.5 L575.9,681.8 L576.1,683.5 L576.3,682.8 L576.5,684.0 L576.6,683.4 L576.8,685.3 L577.0,685.0 L577.1,686.7 L577.3,685.9 L577.5,687.5 L577.7,688.3 L577.9,688.3 L578.1,689.2 L578.3,689.6 L578.5,690.4 L578.7,689.8 L578.9,689.3 L579.1,691.6 L579.2,691.1 L579.4,691.9 L579.5,691.5 L579.7,692.0 L579.8,689.9 L580.0,690.4 L580.1,690.1 L580.2,689.2 L580.3,689.7 L580.4,688.8 L580.6,687.7 L580.7,687.0 L580.8,687.8 L580.9,686.2 L581.0,686.2 L581.1,686.1 L581.2,685.5 L581.3,683.1 L581.4,683.1 L581.5,683.3 L581.6,683.0 L581.7,682.7 L581.8,682.2 L581.9,682.0 L582.0,680.6 L582.1,680.5 L582.2,680.6 L582.3,681.2 L582.4,680.5 L582.5,681.9 L582.6,680.3 L582.7,682.4 L582.7,682.3 L582.8,681.5 L582.9,684.2 L583.0,684.3 L583.1,684.7 L583.2,684.5 L583.3,685.6 L583.4,687.6 L583.6,686.4 L583.7,687.5 L583.8,685.4 L584.0,687.9 L584.2,688.3 L584.4,689.6 L584.6,689.9 L584.8,689.8 L585.0,690.6 L585.2,689.9 L585.4,691.0 L585.5,688.8 L585.7,690.8 L585.8,688.3 L586.0,687.3 L586.2,688.1 L586.4,687.3 L586.6,685.5 L586.8,686.3 L587.0,684.0 L587.2,684.4 L587.5,685.0 L587.8,685.9 L588.3,685.0 L588.8,684.4 L589.3,686.0 L589.7,686.6 L590.0,686.2 L590.2,686.5 L590.4,685.5 L590.5,687.0 L590.7,688.1 L590.8,688.9 L590.9,690.2 L591.0,689.3 L591.2,689.7 L591.2,690.6 L591.3,692.2 L591.4,691.2 L591.5,693.4 L591.6,691.0 L591.7,694.2 L591.8,693.5 L591.9,694.8 L592.0,695.4 L592.1,694.3 L592.2,695.3 L592.4,695.7 L592.5,695.6 L592.7,695.9 L592.8,694.5 L593.0,694.1 L593.2,692.9 L593.5,695.6 L593.7,693.0 L593.9,692.3 L594.1,690.8 L594.3,692.1 L594.6,690.6 L594.8,691.8 L595.0,690.6 L595.2,691.4 L595.4,691.1 L595.6,692.1 L595.8,691.4 L596.0,692.6 L596.2,693.0 L596.4,693.0 L596.6,694.3 L596.9,694.4 L597.2,694.3 L597.7,695.4 L598.2,691.7 L598.7,693.6 L599.2,693.2 L599.8,693.4 L600.3,693.8 L600.8,693.6 L601.2,693.1 L601.6,692.8 L602.1,692.1 L602.4,692.4 L602.8,691.9 L603.1,691.2 L603.3,689.4 L603.5,690.1 L603.7,688.6 L603.8,688.2 L603.9,688.6 L604.1,687.9 L604.2,687.4 L604.4,686.2 L604.5,686.4 L604.8,685.6 L605.0,686.2 L605.4,686.5 L606.0,686.7 L606.6,687.5 L607.2,687.1 L607.5,686.2 L607.7,685.7 L607.8,686.3 L607.9,686.4 L608.0,687.9 L608.1,689.8 L608.2,689.6 L608.3,688.1 L608.4,689.5 L608.4,690.0 L608.5,691.9 L608.6,691.8 L608.7,691.9 L608.8,692.1 L608.9,693.1 L609.0,690.9 L609.1,690.6 L609.2,692.4 L609.3,690.8 L609.4,689.6 L609.5,688.2 L609.6,688.1 L609.7,686.8 L609.8,688.2 L609.9,687.6 L610.0,687.7 L610.1,686.2 L610.2,685.2 L610.3,684.6 L610.4,686.0 L610.4,682.7 L610.5,683.6 L610.5,683.0 L610.6,682.5 L610.7,681.1 L610.9,679.3 L611.0,678.0 L611.1,676.6 L611.2,674.8 L611.3,673.2 L611.4,671.7 L611.5,669.9 L611.5,668.6 L611.6,667.0 L611.7,665.6 L611.8,664.0 L611.9,662.7 L612.0,660.9 L612.1,658.5 L612.2,656.8 L612.3,654.7 L612.4,653.0 L612.5,651.1 L612.6,649.7 L612.7,648.4 L612.8,647.6 L612.9,647.5 L613.0,648.0 L613.1,648.8 L613.2,649.8 L613.3,651.2 L613.4,652.8 L613.5,654.5 L613.6,656.2 L613.7,658.8 L613.8,660.6 L613.9,662.2 L614.0,664.0 L614.1,665.3 L614.2,667.4 L614.3,668.1 L614.3,670.5 L614.4,671.8 L614.5,673.7 L614.6,674.5 L614.7,676.2 L614.8,677.7 L614.9,679.2 L615.0,680.9 L615.2,682.3 L615.3,683.7 L615.4,685.7 L615.6,686.8 L615.8,688.4 L616.0,690.0 L616.4,692.4 L616.9,694.4 L617.5,695.6 L617.7,695.2 L618.0,695.6 L618.3,694.7 L618.6,693.6 L618.9,693.9 L619.3,693.3 L619.6,694.2 L619.8,691.6 L620.0,691.9 L620.1,692.2 L620.3,690.5 L620.4,690.3 L620.5,689.9 L620.7,689.9 L620.8,689.9 L620.9,690.1 L621.0,687.8 L621.1,688.8 L621.2,688.1 L621.2,687.5 L621.3,685.8 L621.4,686.6 L621.4,685.4 L621.5,685.0 L621.6,684.8 L621.6,683.9 L621.6,684.0 L621.7,683.9 L621.7,683.3 L621.8,681.8 L621.8,682.1 L621.9,681.9 L621.9,679.5 L621.9,680.7 L622.0,678.0 L622.0,678.8 L622.0,678.2 L622.1,678.3 L622.1,676.8 L622.1,675.6 L622.1,674.8 L622.2,673.9 L622.2,674.8 L622.2,673.6 L622.2,672.7 L622.3,673.1 L622.3,671.6 L622.3,671.4 L622.3,670.9 L622.4,672.1 L622.4,671.6 L622.4,670.0 L622.5,668.6 L622.5,669.7 L622.5,669.3 L622.6,669.3 L622.6,669.3 L622.6,668.6 L622.7,669.4 L622.7,668.7 L622.7,669.4 L622.8,669.0 L622.8,668.6 L622.9,668.7 L622.9,669.8 L622.9,668.7 L623.0,669.7 L623.0,669.6 L623.1,669.4 L623.1,671.3 L623.1,671.3 L623.2,671.8 L623.2,672.8 L623.3,671.6 L623.3,673.1 L623.4,673.9 L623.4,674.9 L623.5,674.0 L623.5,675.9 L623.5,676.1 L623.6,677.6 L623.6,678.0 L623.7,678.2 L623.7,680.0 L623.8,679.0 L623.8,679.3 L623.9,679.9 L623.9,680.1 L624.0,681.3 L624.1,680.5 L624.1,682.4 L624.2,683.3 L624.2,684.3 L624.3,683.8 L624.3,685.6 L624.4,685.0 L624.5,685.0 L624.5,685.8 L624.6,685.0 L624.6,686.3 L624.7,686.7 L624.8,688.9 L624.8,688.6 L624.9,687.9 L625.0,689.6 L625.0,690.0 L625.1,689.9 L625.2,690.6 L625.3,690.8 L625.4,691.1 L625.4,690.6 L625.5,692.3 L625.6,693.8 L625.7,694.3 L625.8,693.5 L626.0,693.6 L626.1,694.4 L626.2,695.0 L626.3,696.1 L626.5,696.2 L626.7,696.0 L626.9,697.2 L627.2,697.3 L627.5,698.3 L627.7,698.1 L628.0,697.8 L628.3,699.3 L628.6,700.1 L628.9,699.0 L629.1,699.9 L629.4,700.0 L629.7,700.5 L630.0,699.1 L630.3,698.3 L630.5,699.6 L630.9,698.3 L631.2,697.5 L631.6,698.3 L631.9,697.1 L632.3,699.3 L632.8,697.2 L633.2,698.4 L633.6,699.7 L634.1,700.4 L634.5,698.9 L635.0,699.7 L635.4,699.2 L635.9,699.8 L636.3,698.2 L636.8,700.0 L637.2,699.8 L637.7,699.0 L638.2,699.6 L638.6,699.7 L639.1,699.3 L639.5,699.4 L640.0,699.0 L640.5,700.1 L641.0,698.7 L641.4,699.2 L641.9,698.7 L642.4,699.9 L642.9,698.9 L643.4,699.6 L643.8,699.4 L644.3,699.4 L644.8,700.6 L645.3,699.3 L645.7,700.4 L646.2,699.4 L646.7,700.0 L647.2,700.2 L647.7,699.0 L648.2,699.5 L648.7,699.2 L649.1,697.9 L649.4,698.1 L649.7,698.0 L649.9,697.2 L650.1,696.8 L650.2,697.2 L650.4,695.2 L650.6,694.0 L650.7,693.5 L651.0,694.2 L651.2,694.4 L651.5,694.1 L652.0,694.9 L652.4,695.7 L652.9,697.0 L653.3,696.3 L653.7,696.2 L654.1,696.4 L654.4,695.2 L654.8,695.7 L655.1,695.7 L655.4,695.2 L655.6,693.7 L655.8,691.9 L655.9,693.5 L656.1,693.6 L656.2,692.6 L656.4,690.5 L656.5,690.9 L656.6,691.1 L656.7,690.6 L656.9,689.2 L657.0,688.7 L657.1,689.6 L657.2,687.4 L657.3,689.0 L657.4,687.5 L657.5,687.2 L657.6,685.6 L657.7,685.6 L657.8,686.1 L657.9,684.1 L658.0,686.2 L658.1,683.2 L658.2,682.9 L658.4,683.4 L658.5,683.3 L658.7,682.5 L658.9,682.6 L659.1,681.4 L659.3,681.1 L659.5,680.7 L659.7,680.0 L659.9,678.2 L660.2,680.3 L660.4,679.4 L660.7,679.0 L660.9,678.0 L661.2,678.1 L661.5,677.9 L661.9,677.3 L662.2,676.9 L662.6,677.4 L663.0,675.0 L663.3,676.0 L663.5,674.6 L663.7,675.0 L663.8,674.4 L663.9,675.3 L663.9,673.0 L664.0,673.3 L664.1,672.5 L664.1,673.2 L664.2,671.4 L664.3,670.4 L664.3,671.6 L664.4,670.5 L664.4,670.1 L664.4,670.6 L664.5,668.8 L664.5,668.7 L664.5,668.6 L664.6,668.3 L664.6,667.2 L664.6,667.8 L664.7,668.2 L664.7,665.8 L664.7,667.0 L664.8,663.6 L664.8,665.7 L664.8,663.9 L664.9,663.8 L664.9,663.0 L664.9,662.3 L665.0,661.4 L665.0,661.6 L665.0,662.3 L665.1,661.7 L665.1,660.2 L665.2,660.0 L665.3,659.1 L665.3,658.5 L665.4,657.6 L665.4,659.2 L665.5,657.8 L665.5,656.8 L665.6,655.7 L665.6,654.7 L665.7,655.8 L665.7,654.8 L665.8,653.0 L665.9,653.8 L665.9,651.7 L666.0,652.5 L666.1,650.8 L666.2,650.8 L666.3,651.0 L666.3,650.6 L666.4,650.7 L666.5,649.1 L666.7,650.7 L666.8,650.4 L666.9,649.4 L667.1,649.5 L667.4,650.2 L667.7,649.8 L668.0,650.8 L668.4,650.5 L668.7,651.9 L669.0,652.5 L669.4,653.2 L669.7,654.5 L670.0,653.7 L670.3,654.2 L670.6,653.8 L670.8,652.5 L671.1,652.0 L671.4,651.3 L671.6,651.2 L671.8,649.3 L671.9,650.6 L672.0,651.2 L672.0,649.6 L672.1,650.5 L672.1,651.0 L672.2,650.9 L672.2,652.7 L672.3,651.7 L672.3,653.3 L672.4,653.4 L672.4,652.6 L672.4,653.7 L672.4,654.8 L672.5,654.1 L672.5,654.9 L672.5,655.0 L672.5,656.0 L672.6,656.2 L672.6,657.1 L672.6,658.4 L672.6,659.3 L672.6,659.0 L672.7,659.6 L672.7,660.7 L672.7,660.5 L672.7,660.6 L672.8,662.7 L672.8,661.8 L672.8,663.8 L672.9,663.0 L672.9,665.5 L672.9,664.0 L673.0,665.9 L673.0,666.8 L673.1,666.2 L673.2,666.0 L673.3,668.2 L673.4,667.0 L673.5,666.7 L673.6,669.0 L673.8,669.4 L673.9,669.2 L674.1,668.0 L674.3,670.2 L674.4,670.5 L674.6,670.9 L674.7,671.4 L674.9,670.8 L675.0,672.5 L675.1,672.5 L675.2,674.7 L675.3,675.0 L675.4,674.1 L675.5,674.3 L675.6,675.6 L675.7,676.6 L675.8,676.8 L675.9,675.9 L676.0,677.4 L676.1,677.8 L676.2,679.2 L676.3,679.5 L676.4,679.5 L676.5,680.5 L676.6,679.7 L676.7,681.6 L676.9,680.6 L677.0,681.6 L677.2,682.4 L677.3,681.5 L677.5,682.5 L677.8,682.5 L678.3,682.2 L678.8,684.1 L679.2,684.2 L679.4,684.4 L679.5,684.1 L679.6,684.6 L679.6,682.5 L679.7,683.8 L679.8,683.5 L679.8,682.9 L679.9,683.2 L679.9,683.4 L679.9,681.4 L680.0,680.5 L680.0,680.2 L680.0,680.1 L680.1,679.8 L680.1,678.2 L680.1,678.9 L680.2,676.9 L680.2,677.7 L680.2,676.8 L680.3,676.3 L680.3,677.0 L680.4,675.0 L680.5,674.3 L680.5,673.8 L680.6,673.7 L680.7,673.4 L680.7,671.2 L680.8,671.7 L680.9,670.4 L681.0,670.9 L681.1,670.9 L681.2,669.6 L681.3,669.2 L681.4,669.2 L681.5,669.0 L681.6,667.0 L681.8,669.9 L682.0,670.2 L682.3,670.4 L682.5,670.6 L682.7,670.9 L682.9,671.9 L683.1,672.5 L683.2,673.8 L683.4,673.4 L683.5,675.0 L683.6,672.8 L683.7,674.9 L683.8,676.1 L683.9,676.5 L684.0,675.9 L684.1,677.1 L684.2,679.0 L684.4,677.6 L684.5,678.2 L684.6,678.4 L684.8,678.9 L685.0,679.4 L685.3,679.7 L685.7,679.4 L686.2,677.0 L686.6,679.0 L686.9,677.5 L687.1,676.6 L687.3,676.0 L687.5,677.0 L687.7,675.1 L687.8,673.8 L688.0,673.9 L688.1,674.2 L688.2,673.7 L688.4,673.7 L688.5,674.4 L688.6,675.6 L688.7,675.6 L688.9,674.8 L689.0,678.3 L689.1,676.1 L689.2,677.5 L689.3,678.0 L689.4,679.1 L689.6,678.9 L689.7,680.0 L689.8,681.7 L689.9,680.8 L690.0,681.2 L690.1,680.9 L690.2,682.4 L690.3,682.0 L690.4,682.8 L690.5,683.7 L690.6,684.2 L690.7,684.3 L690.8,685.6 L690.8,685.3 L690.9,685.0 L691.0,687.0 L691.1,686.6 L691.2,688.1 L691.3,687.2 L691.5,688.6 L691.6,688.8 L691.7,687.1 L691.9,689.4 L692.1,688.7 L692.3,689.4 L692.6,691.6 L692.9,689.6 L693.2,692.0 L693.6,692.5 L693.9,692.4 L694.3,692.9 L694.7,692.4 L695.0,693.1 L695.4,693.5 L695.7,694.0 L696.1,694.6 L696.6,695.2 L697.0,694.9 L697.4,694.9 L697.8,695.3 L698.1,696.3 L698.4,694.9 L698.7,696.2 L698.9,695.2 L699.1,695.6 L699.3,695.1 L699.5,694.9 L699.6,692.7 L699.8,693.8 L699.9,693.2 L700.1,693.4 L700.2,690.8 L700.4,691.5 L700.6,691.2 L700.8,691.1 L701.0,690.6 L701.3,690.5 L701.5,689.9 L701.8,687.9 L702.0,688.6 L702.2,687.6 L702.5,687.0 L702.7,687.5 L702.9,688.7 L703.1,687.4 L703.3,687.6 L703.5,688.3 L703.7,688.5 L703.9,690.4 L704.0,690.5 L704.2,691.8 L704.4,691.2 L704.6,692.0 L704.8,691.8 L704.9,693.5 L705.1,692.9 L705.3,693.6 L705.4,694.3 L705.6,695.0 L705.8,696.1 L706.0,695.1 L706.2,695.6 L706.4,695.7 L706.6,695.1 L706.9,693.7 L707.1,693.3 L707.3,693.3 L707.6,693.3 L707.8,692.9 L708.1,692.5 L708.4,693.0 L708.7,693.2 L709.0,693.4 L709.4,694.7 L709.7,694.1 L710.0,695.0 L710.3,693.9 L710.5,694.4 L710.8,693.3 L711.0,693.5 L711.3,692.8 L711.5,692.4 L711.8,692.2 L712.0,691.1 L712.2,690.8 L712.5,689.4 L712.7,690.4 L712.9,689.4 L713.1,690.0 L713.3,690.4 L713.5,688.4 L713.7,690.4 L713.9,691.7 L714.1,690.4 L714.3,692.6 L714.5,693.5 L714.7,694.0 L714.8,693.2 L715.0,694.4 L715.1,694.5 L715.3,694.3 L715.4,693.3 L715.5,694.2 L715.7,693.3 L715.8,692.9 L715.9,692.1 L716.0,692.4 L716.1,691.5 L716.2,691.7 L716.3,690.6 L716.4,689.3 L716.6,689.0 L716.7,689.2 L716.8,687.8 L717.0,687.8 L717.1,687.4 L717.3,686.5 L717.5,686.2 L717.8,684.1 L718.2,685.6 L718.6,685.3 L719.1,684.9 L719.5,683.9 L719.8,685.0 L720.0,683.7 L720.2,682.3 L720.4,680.8 L720.5,679.3 L720.6,677.9 L720.7,676.0 L720.8,674.3 L720.9,673.3 L720.9,671.5 L721.0,669.7 L721.1,668.1 L721.2,666.2 L721.3,664.6 L721.5,662.1 L721.6,660.7 L721.7,658.6 L721.9,656.4 L722.0,654.1 L722.2,653.5 L722.3,652.6 L722.5,651.9 L722.6,652.3 L722.8,653.7 L722.9,655.7 L723.0,657.7 L723.2,660.3 L723.4,662.1 L723.7,663.7 L725.0,665.0 L725.2,666.5 L725.4,667.9 L725.5,669.1 L725.6,670.8 L725.6,673.6 L725.7,674.6 L725.7,676.6 L725.8,678.4 L725.8,680.3 L725.9,681.8 L726.0,683.2 L726.2,685.0 L726.5,686.6 L727.0,687.7 L727.5,689.6 L728.1,691.2 L728.6,693.0 L729.2,694.1 L729.8,696.4 L730.4,697.8 L731.2,698.1 L731.5,699.0 L731.8,697.0 L732.1,696.8 L732.5,695.4 L732.8,695.6 L733.2,696.2 L733.6,696.9 L734.0,694.3 L734.4,695.0 L734.8,696.0 L735.3,695.4 L735.8,694.8 L736.4,696.8 L736.9,693.5 L737.5,695.4 L737.9,695.7 L738.4,697.1 L738.7,695.6 L739.0,696.8 L739.2,697.0 L739.4,695.1 L739.7,695.4 L739.8,695.2 L740.0,694.1 L740.2,693.4 L740.4,692.5 L740.6,691.8 L740.8,690.6 L741.0,692.5 L741.2,690.6 L741.4,689.9 L741.7,688.3 L742.0,689.7 L742.3,689.1 L742.7,688.9 L743.0,689.7 L743.3,688.0 L743.6,687.5 L743.8,686.8 L744.1,687.0 L744.3,686.3 L744.4,686.2 L744.7,684.9 L745.0,684.1 L745.3,682.0 L745.5,680.1 L745.7,679.2 L745.8,677.4 L746.0,675.8 L746.1,674.2 L746.2,672.5 L746.4,670.1 L746.5,667.5 L746.6,665.0 L746.7,662.3 L746.8,659.8 L746.9,656.7 L747.0,654.2 L747.0,651.5 L747.1,649.3 L747.2,646.6 L747.4,643.7 L747.5,641.2 L747.6,639.7 L747.7,638.3 L747.8,635.9 L748.0,633.3 L748.1,631.7 L748.3,630.2 L748.4,628.7 L748.6,627.9 L748.7,627.5 L748.8,628.1 L749.0,628.7 L749.2,629.7 L749.3,631.8 L749.5,633.5 L749.6,635.7 L749.8,637.7 L749.9,639.6 L750.1,641.6 L750.2,643.7 L750.4,645.5 L750.5,647.2 L750.6,648.7 L750.8,651.5 L750.9,652.8 L751.0,654.8 L751.2,657.0 L751.3,658.1 L751.5,660.9 L751.6,662.3 L751.7,664.5 L751.9,666.2 L752.0,667.7 L752.2,669.4 L752.3,670.9 L752.4,672.5 L752.5,673.6 L752.7,675.3 L752.8,677.2 L753.0,679.1 L753.1,680.2 L753.3,682.0 L753.5,683.5 L753.7,685.0 L753.9,687.0 L754.2,689.3 L754.6,690.7 L755.0,692.6 L755.6,693.1 L755.8,693.0 L756.2,692.8 L756.6,692.3 L757.1,692.3 L757.6,692.0 L758.1,691.8 L758.7,694.3 L759.2,693.5 L759.6,692.1 L760.0,691.9 L760.3,692.1 L760.6,690.4 L760.9,688.5 L761.2,688.8 L761.5,690.0 L761.8,690.2 L762.1,691.5 L762.4,691.0 L762.7,690.8 L763.0,691.9 L763.3,691.9 L763.5,691.9 L763.7,693.1 L763.9,692.9 L764.0,692.6 L764.2,692.0 L764.3,691.6 L764.4,691.1 L764.6,691.5 L764.7,691.8 L764.8,690.1 L764.9,691.2 L765.0,687.8 L765.1,688.6 L765.2,686.9 L765.3,687.1 L765.5,686.8 L765.6,686.2 L765.7,686.1 L765.9,686.0 L766.0,684.3 L766.1,683.2 L766.3,683.4 L766.4,683.2 L766.6,681.9 L766.7,682.6 L766.9,682.7 L767.1,680.1 L767.3,681.1 L767.5,681.4 L767.7,680.6 L768.0,679.3 L768.4,681.0 L768.9,680.9 L769.4,680.4 L769.9,682.7 L770.3,682.3 L770.6,682.5 L770.8,682.5 L771.0,683.5 L771.1,684.1 L771.3,684.6 L771.4,684.9 L771.5,685.2 L771.6,684.5 L771.7,685.6 L771.8,686.5 L772.0,684.8 L772.1,688.9 L772.2,687.5 L772.3,687.5 L772.5,688.7 L772.7,687.8 L772.8,689.8 L773.0,690.0 L773.2,690.0 L773.4,690.6 L773.6,690.7 L773.8,691.2 L774.0,692.1 L774.2,692.1 L774.5,693.5 L774.7,693.2 L775.0,693.7 L775.3,694.2 L775.7,694.8 L776.1,695.8 L776.5,695.8 L777.0,695.8 L777.4,695.8 L777.8,695.5 L778.1,696.2 L778.4,695.9 L778.6,696.4 L778.8,695.8 L779.0,694.9 L779.2,693.7 L779.3,693.1 L779.5,693.9 L779.7,693.8 L779.9,692.8 L780.1,691.0 L780.3,691.4 L780.6,691.2 L781.0,691.0 L781.4,689.8 L781.9,690.4 L782.2,690.0 L782.4,689.9 L782.6,689.7 L782.7,689.7 L782.9,691.6 L783.0,691.8 L783.1,691.4 L783.2,691.9 L783.3,694.0 L783.4,694.4 L783.5,694.5 L783.6,696.5 L783.6,695.8 L783.7,695.9 L783.8,698.0 L783.9,697.6 L784.0,698.4 L784.1,698.5 L784.3,697.9 L784.4,698.7 L784.5,697.7 L784.7,698.1 L784.8,698.8 L785.0,696.5 L785.2,697.5 L785.3,696.1 L785.5,694.5 L785.7,695.0 L786.0,694.9 L786.2,694.4 L786.5,693.8 L786.8,692.9 L787.2,694.9 L787.7,694.0 L788.2,695.2 L788.7,693.7 L789.2,695.1 L789.7,694.8 L790.2,694.4 L790.7,695.4 L791.2,695.6 L791.6,695.7 L792.1,695.2 L792.5,694.7 L793.0,695.7 L793.5,694.2 L793.9,695.9 L794.4,695.8 L794.8,696.6 L795.3,696.0 L795.7,695.5 L796.2,695.4 L796.6,695.2 L797.1,694.1 L797.5,695.0 L798.0,696.0 L798.5,695.2 L798.9,694.5 L799.4,693.7 L799.9,695.5 L800.4,694.6 L800.8,693.1 L801.3,694.3 L801.7,694.9 L802.1,693.3 L802.5,693.1 L802.9,693.1 L803.2,692.0 L803.5,691.4 L803.8,692.1 L804.1,693.1 L804.4,690.5 L804.7,690.0 L805.0,690.0 L805.4,690.8 L805.8,690.4 L806.3,691.8 L806.6,692.3 L806.9,691.9 L807.1,691.1 L807.2,690.8 L807.3,691.2 L807.4,691.5 L807.5,690.5 L807.6,690.7 L807.7,688.2 L807.8,688.9 L807.8,687.4 L807.9,687.4 L808.0,686.9 L808.1,686.2 L808.2,685.0 L808.3,685.0 L808.4,683.8 L808.5,684.3 L808.5,682.9 L808.6,682.5 L808.7,682.5 L808.8,681.2 L808.9,682.0 L809.0,680.1 L809.0,680.7 L809.1,679.8 L809.2,678.4 L809.3,678.7 L809.4,677.9 L809.4,678.0 L809.5,678.0 L809.6,678.1 L809.7,679.5 L809.7,678.0 L809.8,679.8 L809.9,679.3 L809.9,678.5 L810.0,678.3 L810.1,681.0 L810.1,679.7 L810.2,682.3 L810.2,683.2 L810.3,683.4 L810.3,683.6 L810.4,684.3 L810.5,685.3 L810.5,685.4 L810.6,685.8 L810.7,686.3 L810.7,687.8 L810.8,686.8 L810.9,687.7 L811.0,687.5 L811.1,686.6 L811.2,686.7 L811.4,685.9 L811.5,686.3 L811.7,686.4 L811.8,685.6 L812.0,684.4 L812.2,684.6 L812.3,683.3 L812.4,683.3 L812.5,682.5 L812.6,682.2 L812.7,682.0 L812.7,679.3 L812.8,679.6 L812.8,680.5 L812.9,679.4 L813.0,680.5 L813.0,678.1 L813.1,677.3 L813.1,678.2 L813.2,676.9 L813.2,677.2 L813.2,675.6 L813.3,674.5 L813.3,674.6 L813.4,672.9 L813.4,672.5 L813.4,671.9 L813.5,671.5 L813.5,671.7 L813.5,670.2 L813.6,670.3 L813.6,669.2 L813.7,669.7 L813.7,666.6 L813.7,668.0 L813.8,667.9 L813.8,666.6 L813.9,667.8 L813.9,666.9 L814.0,667.4 L814.0,666.9 L814.1,666.4 L814.2,665.7 L814.2,664.9 L814.3,665.5 L814.4,665.6 L814.5,665.3 L814.6,666.0 L814.7,665.8 L814.9,668.7 L815.0,665.8 L815.2,668.3 L815.4,667.6 L815.5,668.3 L815.7,669.8 L815.8,669.7 L816.0,669.3 L816.1,671.0 L816.2,671.2 L816.3,671.5 L816.4,670.6 L816.4,672.7 L816.5,672.2 L816.6,672.9 L816.6,674.2 L816.7,674.6 L816.7,674.6 L816.8,676.8 L816.8,676.0 L816.9,675.7 L816.9,676.8 L817.0,677.0 L817.0,675.9 L817.1,676.8 L817.1,677.4 L817.2,680.4 L817.2,679.2 L817.3,679.6 L817.4,679.8 L817.4,681.4 L817.5,681.2 L817.5,682.8 L817.6,682.6 L817.7,682.5 L817.8,684.2 L817.9,683.3 L818.0,684.2 L818.1,684.1 L818.2,684.7 L818.3,684.1 L818.4,685.4 L818.5,685.6 L818.6,686.3 L818.7,688.1 L818.9,687.9 L819.0,689.1 L819.1,689.2 L819.3,689.7 L819.5,690.2 L819.6,689.4 L819.8,690.8 L820.0,690.6 L820.2,690.7 L820.5,691.0 L820.9,692.7 L821.2,693.8 L821.6,691.9 L822.0,694.2 L822.5,693.9 L822.9,692.9 L823.3,693.8 L823.7,693.7 L824.2,693.8 L824.7,693.4 L825.2,692.4 L825.6,692.5 L825.9,691.7 L826.3,693.0 L826.5,694.1 L826.8,694.6 L827.1,695.1 L827.4,695.9 L827.7,694.8 L828.1,695.6 L828.5,695.5 L829.0,695.6 L829.5,695.9 L830.0,695.0 L830.5,695.0 L831.0,695.1 L831.5,694.6 L832.0,695.9 L832.5,692.6 L832.8,693.9 L833.1,693.7 L833.3,695.2 L833.4,693.3 L833.6,691.4 L833.7,692.4 L833.8,690.8 L833.9,690.8 L833.9,691.0 L834.0,691.5 L834.1,690.1 L834.2,689.7 L834.2,689.4 L834.3,688.3 L834.4,687.1 L834.5,687.2 L834.7,687.1 L834.8,686.3 L835.0,686.2 L835.3,685.4 L835.7,685.4 L836.1,684.3 L836.6,684.5 L837.1,685.0 L837.5,685.0 L837.9,684.8 L838.3,685.4 L838.8,686.7 L839.2,686.3 L839.5,686.5 L839.7,686.9 L839.9,686.4 L840.0,686.9 L840.1,688.4 L840.2,687.9 L840.3,689.3 L840.4,688.7 L840.5,690.0 L840.5,690.4 L840.6,691.6 L840.7,691.1 L840.8,691.6 L840.8,692.5 L840.9,692.9 L841.1,694.5 L841.2,693.7 L841.4,694.0 L841.5,694.3 L841.8,695.0 L842.0,696.1 L842.2,696.4 L842.5,697.1 L842.8,695.8 L843.1,696.9 L843.5,698.7 L844.0,698.1 L844.5,696.7 L845.1,695.7 L845.7,696.6 L846.2,696.5 L846.6,696.9 L847.1,695.1 L847.5,696.9 L848.0,696.1 L848.4,697.8 L848.8,698.7 L849.2,698.6 L849.6,697.0 L850.0,698.1 L850.4,699.0 L850.8,698.5 L851.1,697.4 L851.5,697.7 L851.9,698.1 L852.2,696.3 L852.5,696.1 L852.9,695.3 L853.2,696.1 L853.4,693.2 L853.7,694.4 L853.9,695.0 L854.2,692.9 L854.4,693.9 L854.6,691.6 L854.8,691.6 L855.0,691.4 L855.2,692.0 L855.3,689.8 L855.5,690.9 L855.7,689.6 L855.9,690.5 L856.0,688.9 L856.2,688.7 L856.4,688.6 L856.5,687.7 L856.7,688.6 L856.8,686.6 L856.9,686.4 L857.0,687.3 L857.2,685.5 L857.3,685.4 L857.4,683.9 L857.6,684.1 L857.7,681.9 L857.9,683.2 L858.1,682.3 L858.3,681.4 L858.5,681.1 L858.7,681.9 L859.0,682.5 L859.5,681.7 L860.0,680.0 L860.6,682.2 L861.1,680.3 L861.6,680.4 L861.9,680.6 L862.1,680.9 L862.4,680.1 L862.6,680.1 L862.7,681.2 L862.9,683.1 L863.1,683.5 L863.2,682.3 L863.4,684.8 L863.5,684.5 L863.7,685.0 L863.9,685.8 L864.0,686.0 L864.2,686.7 L864.3,686.1 L864.5,686.7 L864.7,687.3 L864.8,688.0 L865.0,689.2 L865.1,688.4 L865.3,690.8 L865.5,689.6 L865.7,690.1 L865.9,691.4 L866.2,691.2 L866.5,691.8 L866.9,691.6 L867.3,691.4 L867.7,691.7 L868.1,692.5 L868.5,691.3 L868.8,693.1 L869.1,692.7 L869.5,692.9 L869.8,691.5 L870.1,690.9 L870.4,690.7 L870.7,690.3 L870.9,688.9 L871.2,688.7 L871.4,688.6 L871.7,689.5 L871.9,686.3 L872.1,686.1 L872.3,686.0 L872.5,686.8 L872.7,686.7 L872.9,685.1 L873.1,685.4 L873.3,684.5 L873.5,684.3 L873.7,683.7 L873.9,682.9 L874.2,682.8 L874.4,682.3 L874.7,682.6 L875.0,682.9 L875.2,679.5 L875.5,680.7 L875.7,679.9 L876.0,680.2 L876.3,679.9 L876.5,679.5 L876.7,679.3 L876.9,678.7 L877.1,678.1 L877.3,677.8 L877.5,680.5 L877.6,680.7 L877.8,679.6 L877.9,681.8 L878.1,681.9 L878.2,680.3 L878.4,683.3 L878.5,682.5 L878.7,683.7 L878.8,685.0 L879.0,684.1 L879.1,684.5 L879.2,684.3 L879.3,685.7 L879.5,687.1 L879.6,686.3 L879.7,685.9 L879.8,689.2 L879.9,689.4 L880.0,689.0 L880.2,688.6 L880.3,688.5 L880.4,688.7 L880.6,690.7 L880.7,691.6 L880.9,690.3 L881.0,691.5 L881.2,691.9 L881.4,692.1 L881.6,692.6 L881.9,693.7 L882.2,695.3 L882.4,693.9 L882.7,695.5 L883.0,696.1 L883.4,695.5 L883.7,696.0 L884.0,695.5 L884.3,697.5 L884.7,696.5 L885.0,696.9 L885.3,696.4 L885.7,696.7 L886.0,695.8 L886.4,695.3 L886.8,695.4 L887.1,696.3 L887.5,694.6 L887.9,694.8 L888.3,693.0 L888.7,693.7 L889.1,692.0 L889.5,694.4 L889.9,692.5 L890.3,691.4 L890.8,692.2 L891.2,692.4 L891.6,690.5 L892.0,690.9 L892.4,691.5 L892.8,690.6 L893.1,691.2 L893.4,691.9 L893.7,692.3 L893.9,692.3 L894.2,692.2 L894.5,693.1 L894.7,693.2 L894.9,694.1 L895.1,694.8 L895.4,694.7 L895.6,695.0 L895.8,695.6 L896.0,696.5 L896.2,693.8 L896.4,694.0 L896.6,693.7 L896.8,693.0 L897.0,691.7 L897.2,690.9 L897.4,691.5 L897.6,690.8 L897.8,690.5 L898.1,690.0 L898.4,689.6 L898.8,691.1 L899.2,691.8 L899.6,691.6 L900.0,691.9 L900.3,692.3 L900.6,693.2 L900.9,690.0 L901.2,691.5 L901.4,689.7 L901.7,689.1 L902.0,689.4 L902.3,689.4 L902.5,688.5 L902.8,687.1 L903.1,686.4 L903.4,686.5 L903.7,686.5 L904.0,685.5 L904.3,684.8 L904.6,686.9 L905.0,685.6 L905.4,685.0 L905.8,685.5 L906.2,685.2 L906.7,685.2 L907.2,685.6 L907.7,685.4 L908.2,686.0 L908.7,684.7 L909.1,684.5 L909.6,687.0 L910.0,685.6 L910.4,685.5 L910.8,685.9 L911.2,685.9 L911.6,685.0 L911.9,684.2 L912.3,682.6 L912.6,682.1 L913.0,683.6 L913.3,683.0 L913.7,682.6 L914.0,680.8 L914.4,681.9 L914.8,680.4 L915.2,681.4 L915.5,681.7 L915.9,683.0 L916.3,682.6 L916.7,684.9 L917.1,683.7 L917.5,684.4 L917.9,684.2 L918.4,685.4 L918.9,685.1 L919.4,684.4 L919.8,685.8 L920.2,686.8 L920.6,685.6 L920.9,685.0 L921.2,686.0 L921.4,685.7 L921.7,685.5 L921.9,687.8 L922.1,688.3 L922.3,688.9 L922.5,689.0 L922.7,687.7 L922.9,689.6 L923.1,690.0 L923.3,690.0 L923.5,690.1 L923.7,690.7 L923.8,692.6 L924.0,692.4 L924.2,694.6 L924.3,694.1 L924.5,692.9 L924.7,695.3 L924.9,696.0 L925.1,695.4 L925.3,694.7 L925.6,695.6 L925.9,696.9 L926.3,694.6 L926.8,695.4 L927.3,694.0 L927.9,694.4 L928.4,694.0 L929.0,696.0 L929.5,695.9 L930.0,695.0 L930.5,694.6 L930.9,693.8 L931.4,694.7 L931.9,694.9 L932.3,693.4 L932.8,693.6 L933.2,694.3 L933.7,694.4 L934.2,694.9 L934.7,694.5 L935.2,694.9 L935.8,693.7 L936.3,692.9 L936.8,695.1 L937.3,694.3 L937.7,694.9 L938.1,695.0 L938.5,694.6 L938.8,694.9 L939.1,693.5 L939.3,694.5 L939.6,692.9 L939.9,692.8 L940.2,692.5 L940.6,691.9 L941.1,692.7 L941.6,692.4 L942.2,691.0 L942.7,692.0 L943.1,692.5 L943.3,693.8 L943.5,692.6 L943.7,692.3 L943.9,691.8 L944.0,690.5 L944.2,689.9 L944.3,689.3 L944.4,690.0 L944.5,688.7 L944.6,689.1 L944.7,687.5 L944.9,687.9 L945.0,686.3 L945.1,684.6 L945.2,686.3 L945.3,684.9 L945.5,685.3 L945.6,684.4 L945.8,684.6 L945.9,684.4 L946.1,685.0 L946.2,684.4 L946.4,684.7 L946.6,685.5 L946.8,686.3 L946.9,686.3 L947.1,687.9 L947.3,688.7"/>
</g>
<g id="ticklabels" font-size="32.5">
<text transform="translate(51.05,772.3) scale(0.93,1)" text-anchor="middle">0</text>
<text transform="translate(163.11,772.3) scale(0.93,1)" text-anchor="middle">10</text>
<text transform="translate(275.18,772.3) scale(0.93,1)" text-anchor="middle">20</text>
<text transform="translate(387.24,772.3) scale(0.93,1)" text-anchor="middle">30</text>
<text transform="translate(499.30,772.3) scale(0.93,1)" text-anchor="middle">40</text>
<text transform="translate(611.36,772.3) scale(0.93,1)" text-anchor="middle">50</text>
<text transform="translate(723.42,772.3) scale(0.93,1)" text-anchor="middle">60</text>
<text transform="translate(835.49,772.3) scale(0.93,1)" text-anchor="middle">70</text>
<text transform="translate(947.55,772.3) scale(0.93,1)" text-anchor="middle">80</text>
</g>
<g id="peaklabels" font-size="42">
<text x="172.7" y="56.6">2</text>
<text x="320.3" y="70.8">2</text>
<text x="341.9" y="159.7">1</text>
<text x="253.4" y="555.8">2</text>
<text x="297.5" y="610.4">2</text>
<text x="427.3" y="611.4">3</text>
<text x="448.9" y="599.4">2</text>
<text x="471.6" y="556.9">1</text>
<text x="487.3" y="617.5">1</text>
<text x="660.0" y="624.0">1</text>
<text x="741.7" y="607.4">1</text>
<text x="807.2" y="640.1">1</text>
</g>
<g id="legend" class="b" font-size="41">
<text x="615.6" y="104">1-SiO<tspan font-size="28" dy="10.7">2</tspan></text>
<text x="615.2" y="165">2-Clay minerals</text>
<text x="615.4" y="216">3-Fe<tspan font-size="28" dy="10.7">2</tspan><tspan dy="-10.7">O</tspan><tspan font-size="28" dy="10.7">3</tspan></text>
</g>
<g id="xtitle" class="b">
<text y="823.6" font-size="36"><tspan x="281.3" letter-spacing="0.3">Diffusion</tspan> <tspan x="435.6" letter-spacing="0.2">angle,</tspan> <tspan x="538.6" y="824.5" font-size="39">2θ</tspan> <tspan x="586.6" y="824.5" font-size="39" letter-spacing="0.65">(degree)</tspan></text>
</g>
<g id="ytitle" class="b">
<text transform="translate(27,473.8) rotate(-90)" font-size="40.3" letter-spacing="-0.14">Intensity (a.u.)</text>
</g>
</svg>
</body>
</html>
